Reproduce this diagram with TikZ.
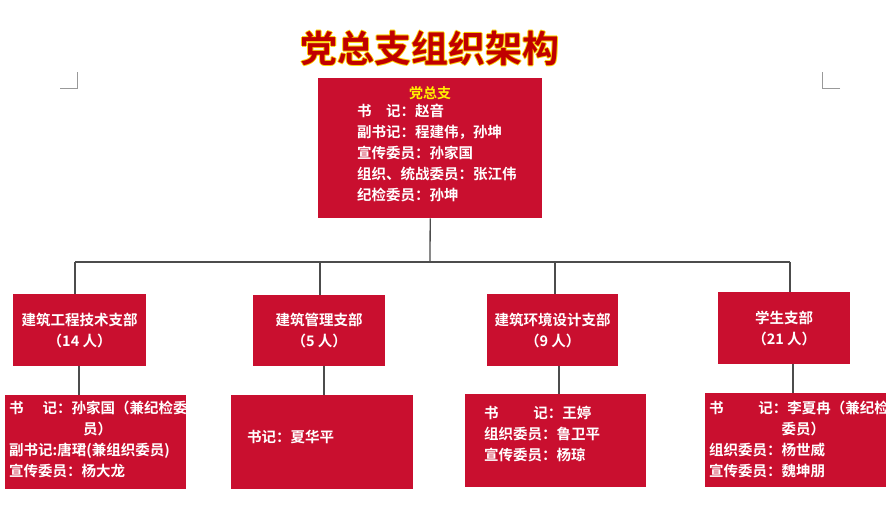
\documentclass[tikz,border=0pt]{standalone}
\usepackage{fontspec}
\setmainfont{Noto Sans CJK SC Bold}
\begin{document}
\begin{tikzpicture}[x=1pt,y=-1pt,
  box/.style={fill=boxred,draw=none},
  txt/.style={text=white,font=\fontsize{14.5}{21}\selectfont,align=left,inner sep=0pt},
  conn/.style={draw=black!70,line width=1.3pt},
  cropmark/.style={draw=black!40,line width=0.6pt}]
\definecolor{boxred}{HTML}{C90F2F}
\definecolor{titlered}{HTML}{C00000}
\useasboundingbox (0,0) rectangle (894,521);
% title
\foreach \dx/\dy in {-0.9/0,0.9/0,0/-0.9,0/0.9}
  \node[text=yellow!70!orange,font=\fontsize{37}{37}\selectfont] at (430+\dx,48+\dy) {党总支组织架构};
\node[text=titlered,font=\fontsize{37}{37}\selectfont] (title) at (430,48) {党总支组织架构};
% crop marks
\draw[cropmark] (60,88) -- (77,88) -- (77,72);
\draw[cropmark] (840,88) -- (822,88) -- (822,72);
% top box
\node[box,minimum width=224,minimum height=140,anchor=north west] (top) at (318,78) {};
\node[text=yellow,font=\fontsize{14}{14}\selectfont] (toph) at (430,93) {党总支};
\node[txt,anchor=north west] (topt) at (357,104) {书\hspace{1em}记：赵音\\副书记：程建伟，孙坤\\宣传委员：孙家国\\组织、统战委员：张江伟\\纪检委员：孙坤};
% branches
\node[box,minimum width=133,minimum height=72,anchor=north west,txt,align=center] (b1) at (13,294) {建筑工程技术支部\\（14 人）};
\node[box,minimum width=132,minimum height=71,anchor=north west,txt,align=center] (b2) at (253,295) {建筑管理支部\\（5 人）};
\node[box,minimum width=131,minimum height=72,anchor=north west,txt,align=center] (b3) at (487,294) {建筑环境设计支部\\（9 人）};
\node[box,minimum width=132,minimum height=72,anchor=north west,txt,align=center] (b4) at (718,292) {学生支部\\（21 人）};
% lower boxes
\node[box,minimum width=181,minimum height=94,anchor=north west] (c1) at (5,395) {};
\node[box,minimum width=182,minimum height=94,anchor=north west] (c2) at (231,395) {};
\node[box,minimum width=181,minimum height=93,anchor=north west] (c3) at (465,394) {};
\node[box,minimum width=181,minimum height=94,anchor=north west] (c4) at (705,393) {};
\node[txt,anchor=north west] (t1) at (9,401) {书\hspace{1.3em}记：孙家国（兼纪检委\\\hspace{5.1em}员）\\副书记:唐珺(兼组织委员)\\宣传委员：杨大龙};
\node[txt,anchor=west] (t2) at (247,437) {书记：夏华平};
\node[txt,anchor=north west] (t3) at (484,406) {书\hspace{2.4em}记：王婷\\组织委员：鲁卫平\\宣传委员：杨琼};
\node[txt,anchor=north west] (t4) at (709,401) {书\hspace{2.4em}记：李夏冉（兼纪检\\\hspace{5em}委员）\\组织委员：杨世威\\宣传委员：魏坤朋};
% connectors
\coordinate (bus) at (430,262);
\draw[conn] (top.south) -- (bus);
\draw[conn] (75,262) -- (790,262);
\draw[conn] (75,262) -- (75,294);
\draw[conn] (320,262) -- (320,295);
\draw[conn] (555,262) -- (555,294);
\draw[conn] (790,262) -- (790,292);
\draw[conn] (79,366) -- (79,395);
\draw[conn] (324,366) -- (324,395);
\draw[conn] (559,366) -- (559,394);
\draw[conn] (793,364) -- (793,393);
\end{tikzpicture}
\end{document}
